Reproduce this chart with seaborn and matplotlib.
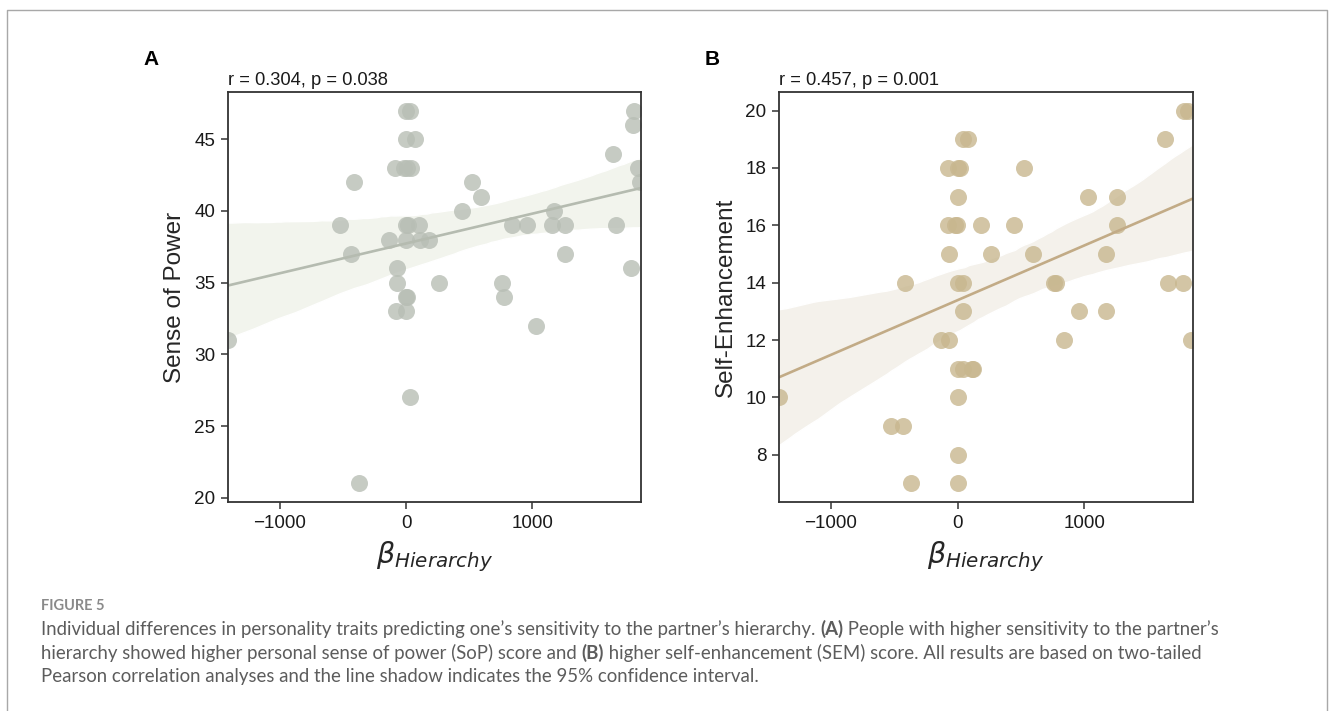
import numpy as np
import pandas as pd
import matplotlib
matplotlib.use("Agg")
import matplotlib.pyplot as plt
from matplotlib.lines import Line2D
from matplotlib.collections import PolyCollection
from matplotlib.ticker import MultipleLocator
import seaborn as sns

# ---------------- data ----------------
beta_A = [0, 30, 1807, 1794, 0, 74, 1640,
          -90, -15, 10, 40, 1840,
          -415, 521, 1850, 595, 444, 1172,
          -526, 0, 13, 106, 841, 960, 1159, 1257, 1659,
          -132, 0, 114, 185, -434, 1257, -69, 1780,
          -69, 262, 757, 0, 10, 772, -79, 0, 1032, -1410, 34, -370]
sop_A = [47, 47, 47, 46, 45, 45, 44,
         43, 43, 43, 43, 43,
         42, 42, 42, 41, 40, 40,
         39, 39, 39, 39, 39, 39, 39, 39, 39,
         38, 38, 38, 38, 37, 37, 36, 36,
         35, 35, 35, 34, 34, 34, 33, 33, 32, 31, 27, 21]

beta_B = [1791, 1817, 45, 85, 1640, -74, 5, 18, 526,
          5, 1032, 1262, -74, -21, -8, 185, 450, 1257,
          -69, 265, 600, 1175, -413, 0, 45, 759, 780, 1659, 1783,
          40, 963, 1169, -127, -66, 844, 1844,
          5, 40, 111, 124, 5, -1410, -524, -431, 5, -370, 5]
sem_B = [20, 20, 19, 19, 19, 18, 18, 18, 18,
         17, 17, 17, 16, 16, 16, 16, 16, 16,
         15, 15, 15, 15, 14, 14, 14, 14, 14, 14, 14,
         13, 13, 13, 12, 12, 12, 12,
         11, 11, 11, 11, 10, 10, 9, 9, 8, 7, 7]

panel_letters = ["A", "B"]
stats_text = ["r = 0.304, p = 0.038", "r = 0.457, p = 0.001"]
y_labels = ["Sense of Power", "Self-Enhancement"]
x_label = r"$\beta_{Hierarchy}$"

caption_head = "FIGURE 5"
caption_lines = [
    [("Individual differences in personality traits predicting one\u2019s sensitivity to the partner\u2019s hierarchy. ", "normal"),
     ("(A)", "bold"),
     (" People with higher sensitivity to the partner\u2019s", "normal")],
    [("hierarchy showed higher personal sense of power (SoP) score and ", "normal"),
     ("(B)", "bold"),
     (" higher self-enhancement (SEM) score. All results are based on two-tailed", "normal")],
    [("Pearson correlation analyses and the line shadow indicates the 95% confidence interval.", "normal")],
]

# ---------------- style ----------------
sns.set_theme(style="ticks")
plt.rcParams["font.family"] = ["Liberation Sans", "DejaVu Sans"]
plt.rcParams["mathtext.fontset"] = "dejavusans"

W, H = 1330, 711
fig = plt.figure(figsize=(W / 100, H / 100), dpi=100)
fig.patch.set_facecolor("white")


def fx(px):
    return px / W


def fy(py):
    return 1 - py / H


axA = fig.add_axes([fx(228), fy(502), fx(641 - 228), (502 - 92) / H])
axB = fig.add_axes([fx(779), fy(502), fx(1193 - 779), (502 - 92) / H])

dfA = pd.DataFrame({"beta": beta_A, "val": sop_A})
dfB = pd.DataFrame({"beta": beta_B, "val": sem_B})

colors_pt = ["#b8beb5", "#c8b78f"]
colors_ln = ["#b5bbb0", "#c2ab86"]
colors_band = ["#f2f4ed", "#f4f1eb"]

for i, (ax, df) in enumerate([(axA, dfA), (axB, dfB)]):
    sns.regplot(data=df, x="beta", y="val", ax=ax, ci=95, n_boot=1000, seed=3,
                truncate=False,
                scatter_kws=dict(s=150, alpha=0.8, linewidths=0, color=colors_pt[i]),
                line_kws=dict(lw=1.9, color=colors_ln[i]))
    for coll in ax.collections:
        if isinstance(coll, PolyCollection):
            coll.set_facecolor(colors_band[i])
            coll.set_alpha(1.0)
            coll.set_zorder(0.5)
    ax.set_xlim(-1410, 1860)
    ax.xaxis.set_major_locator(MultipleLocator(1000))
    ax.set_xlabel(x_label, fontsize=20.5, labelpad=6)
    ax.set_ylabel(y_labels[i], fontsize=17.5, labelpad=6)
    ax.set_title(stats_text[i], loc="left", fontsize=13.2, pad=5, color="#1a1a1a")
    ax.tick_params(axis="both", labelsize=13.6, length=5, width=1.1,
                   colors="#333333", labelcolor="#1a1a1a", pad=4)
    for sp in ax.spines.values():
        sp.set_visible(True)
        sp.set_color("#333333")
        sp.set_linewidth(1.3)
    ax.set_facecolor("white")

for letter, px in zip(panel_letters, [143, 705]):
    fig.text(fx(px), fy(65), letter, fontsize=15, fontweight="bold",
             ha="left", va="baseline", color="black")

# border frame (left, top, right)
fig.add_artist(Line2D([fx(7), fx(7), fx(1327), fx(1327)],
                      [0, fy(10), fy(10), 0], color="#a8a8a8", lw=1.0,
                      transform=fig.transFigure))

# caption
cap_font = ["Lato", "DejaVu Sans"]
fig.text(fx(41), fy(610), caption_head, fontsize=10.5, fontweight="bold",
         color="#8a8a8a", family=cap_font, ha="left", va="baseline")

fig.canvas.draw()
renderer = fig.canvas.get_renderer()
cap_size = 13.45
baselines = [635, 658.5, 682]
for segs, bl in zip(caption_lines, baselines):
    x = 41.0
    for txt, wt in segs:
        t = fig.text(fx(x), fy(bl), txt, fontsize=cap_size, fontweight=wt,
                     color="#5c5c5c", family=cap_font, ha="left", va="baseline")
        bb = t.get_window_extent(renderer=renderer)
        x += bb.width

fig.savefig("out.png", dpi=100, facecolor="white")
